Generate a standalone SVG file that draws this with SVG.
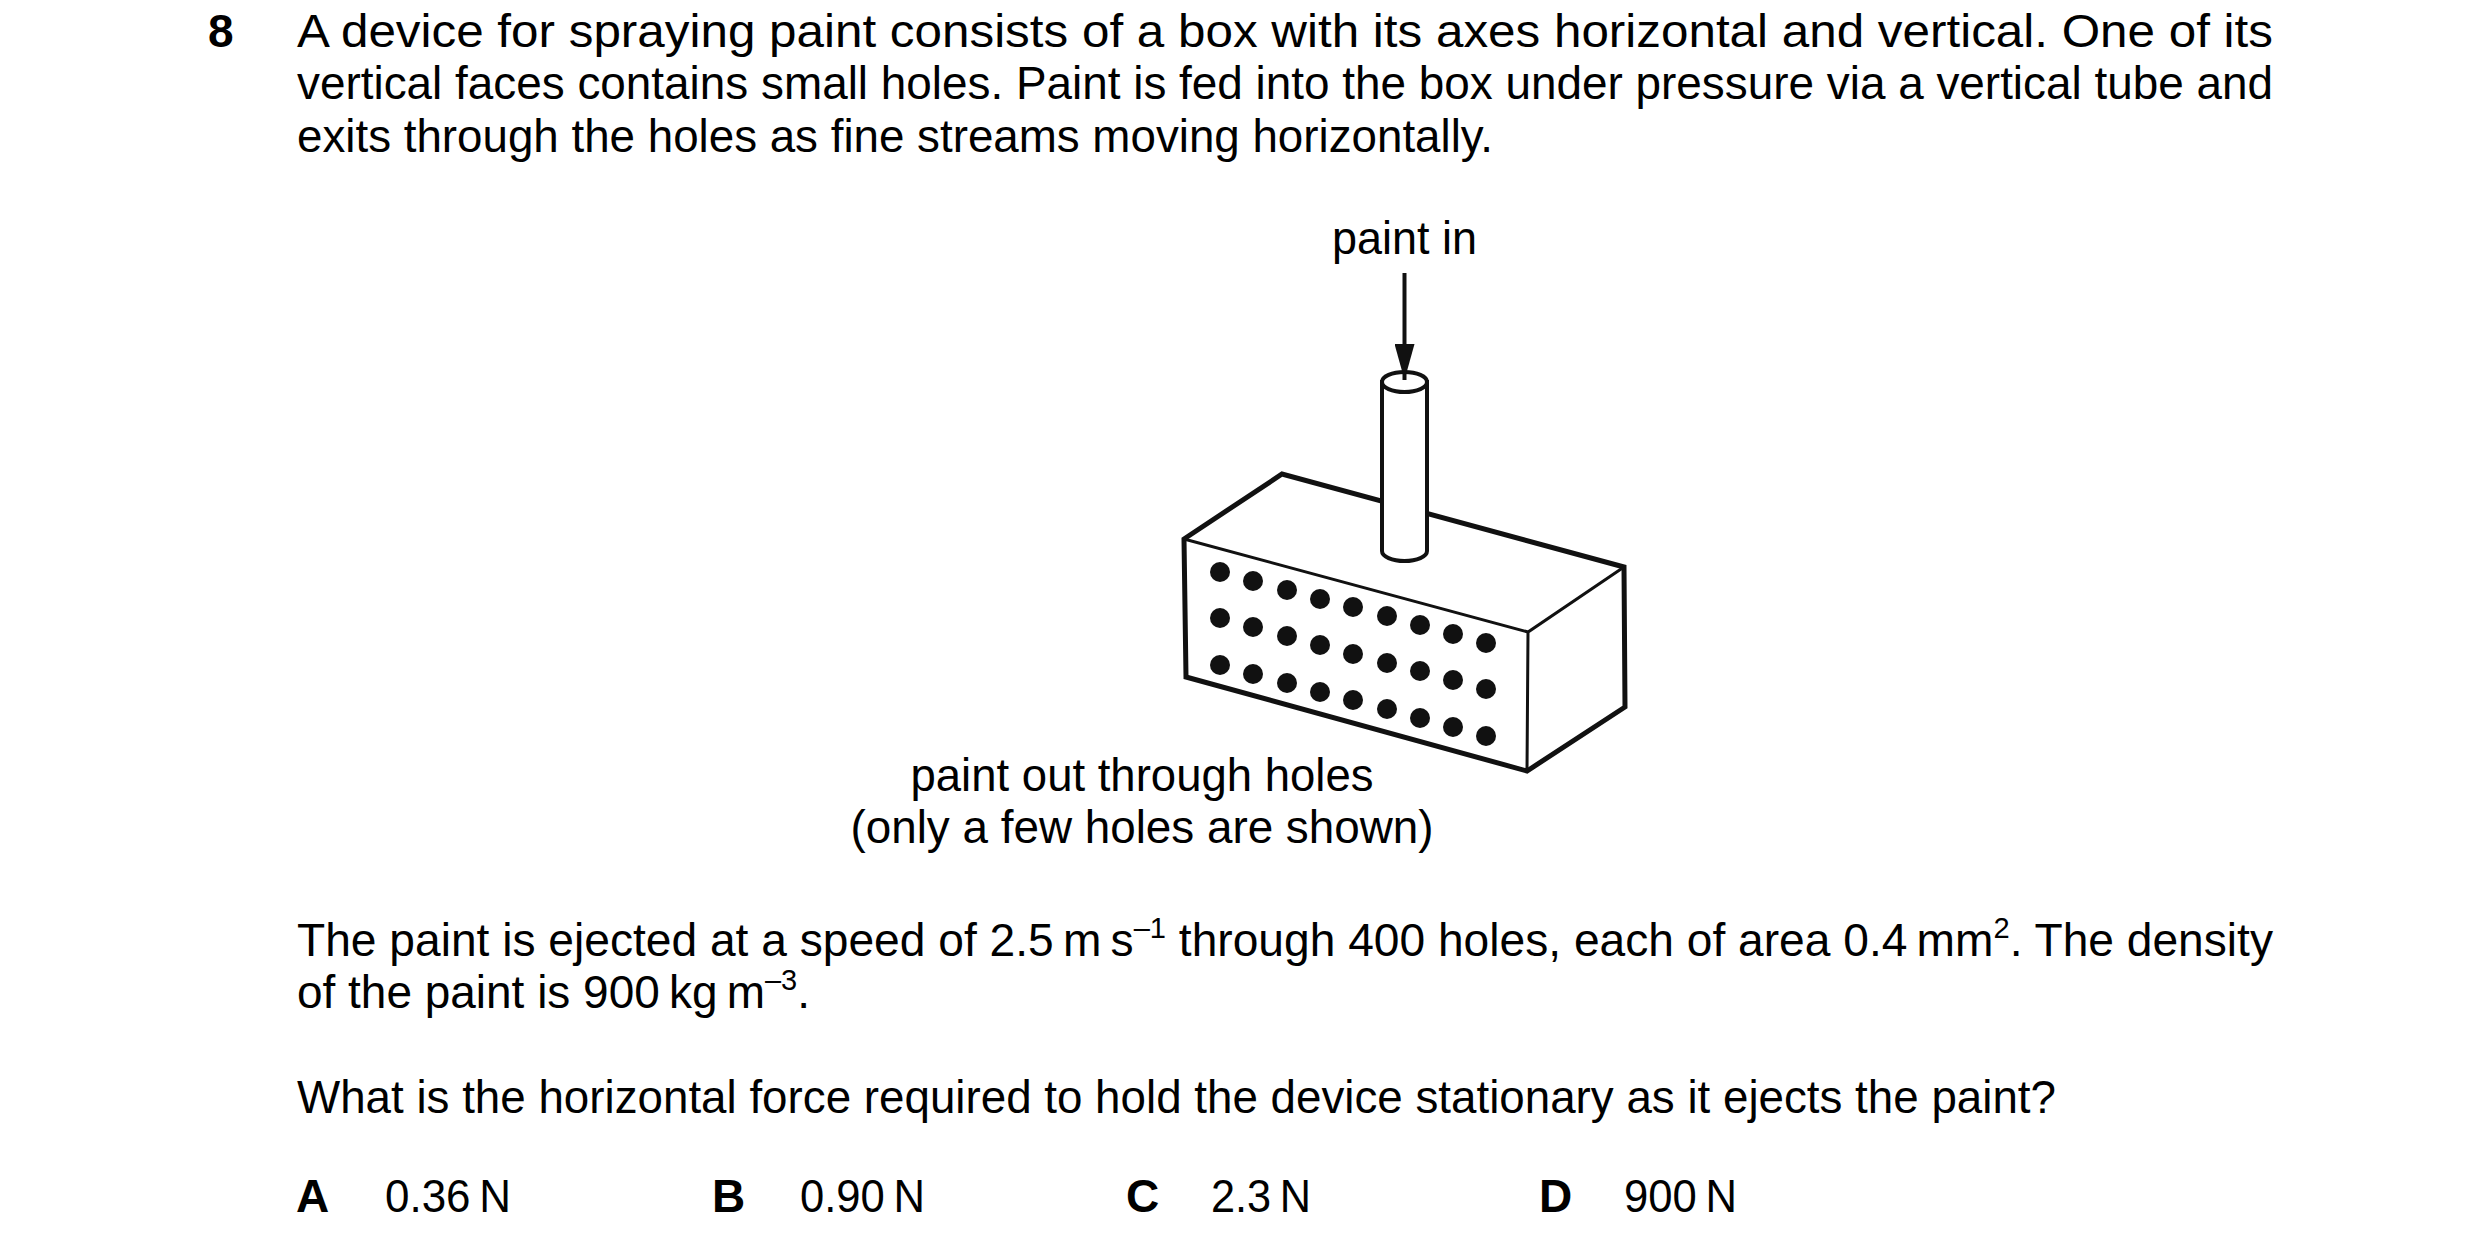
<svg xmlns="http://www.w3.org/2000/svg" width="2480" height="1252" viewBox="0 0 2480 1252">
<style>
text{font-family:"Liberation Sans",Arial,sans-serif;font-size:46px;fill:#000}
.b{font-weight:bold}
.sup{font-size:29px}
.ln{fill:none;stroke:#111;stroke-linejoin:miter}
.dot{fill:#111}
</style>
<defs>
<marker id="ah" markerUnits="userSpaceOnUse" markerWidth="36" markerHeight="20" refX="36" refY="10" orient="auto" viewBox="0 0 36 20">
<path d="M0,0 L36,10 L0,20 Z" fill="#111"/>
</marker>
</defs>
<rect width="2480" height="1252" fill="#fff"/>
<g id="question">
<text class="b" x="208" y="47">8</text>
<text x="297" y="47" textLength="1976" lengthAdjust="spacingAndGlyphs">A device for spraying paint consists of a box with its axes horizontal and vertical. One of its</text>
<text x="297" y="99" textLength="1976" lengthAdjust="spacingAndGlyphs">vertical faces contains small holes. Paint is fed into the box under pressure via a vertical tube and</text>
<text x="297" y="152" textLength="1196" lengthAdjust="spacingAndGlyphs">exits through the holes as fine streams moving horizontally.</text>
</g>
<g id="box">
<path class="ln" stroke-width="5" d="M1184,539 L1282,474 L1624,567 L1625,707 L1527,771 L1186,677 Z"/>
<path class="ln" stroke-width="3" d="M1184,539 L1528,632 L1624,567 M1528,632 L1527,771"/>
<g class="dot">
<circle cx="1220" cy="572" r="10"/><circle cx="1253" cy="581" r="10"/><circle cx="1287" cy="590" r="10"/><circle cx="1320" cy="599" r="10"/><circle cx="1353" cy="607" r="10"/><circle cx="1387" cy="616" r="10"/><circle cx="1420" cy="625" r="10"/><circle cx="1453" cy="634" r="10"/><circle cx="1486" cy="643" r="10"/>
<circle cx="1220" cy="618" r="10"/><circle cx="1253" cy="627" r="10"/><circle cx="1287" cy="636" r="10"/><circle cx="1320" cy="645" r="10"/><circle cx="1353" cy="654" r="10"/><circle cx="1387" cy="663" r="10"/><circle cx="1420" cy="671" r="10"/><circle cx="1453" cy="680" r="10"/><circle cx="1486" cy="689" r="10"/>
<circle cx="1220" cy="665" r="10"/><circle cx="1253" cy="674" r="10"/><circle cx="1287" cy="683" r="10"/><circle cx="1320" cy="692" r="10"/><circle cx="1353" cy="700" r="10"/><circle cx="1387" cy="709" r="10"/><circle cx="1420" cy="718" r="10"/><circle cx="1453" cy="727" r="10"/><circle cx="1486" cy="736" r="10"/>
</g>
</g>
<g id="tube">
<path d="M1382,382 L1382,551 A22.5,10 0 0 0 1427,551 L1427,382 Z" fill="#fff" stroke="#111" stroke-width="4"/>
<ellipse cx="1404.5" cy="382" rx="22.5" ry="10" fill="#fff" stroke="#111" stroke-width="4"/>
</g>
<g id="connectors">
<line x1="1404.5" y1="273" x2="1404.5" y2="380" stroke="#111" stroke-width="4" marker-end="url(#ah)"/>
</g>
<g id="labels">
<text x="1404.5" y="254" text-anchor="middle" textLength="145" lengthAdjust="spacingAndGlyphs">paint in</text>
<text x="1142" y="791" text-anchor="middle" textLength="463" lengthAdjust="spacingAndGlyphs">paint out through holes</text>
<text x="1142" y="843" text-anchor="middle" textLength="583" lengthAdjust="spacingAndGlyphs">(only a few holes are shown)</text>
</g>
<g id="data">
<text x="297" y="956" textLength="1976" lengthAdjust="spacingAndGlyphs">The paint is ejected at a speed of 2.5&#8201;m&#8201;s<tspan class="sup" dy="-18">–1</tspan><tspan dy="18"> through 400 holes, each of area 0.4&#8201;mm</tspan><tspan class="sup" dy="-18">2</tspan><tspan dy="18">. The density</tspan></text>
<text x="297" y="1008" textLength="513" lengthAdjust="spacingAndGlyphs">of the paint is 900&#8201;kg&#8201;m<tspan class="sup" dy="-18">–3</tspan><tspan dy="18">.</tspan></text>
<text x="297" y="1113" textLength="1759" lengthAdjust="spacingAndGlyphs">What is the horizontal force required to hold the device stationary as it ejects the paint?</text>
</g>
<g id="options">
<text class="b" x="296" y="1212">A</text>
<text x="385" y="1212" textLength="126" lengthAdjust="spacingAndGlyphs">0.36&#8201;N</text>
<text class="b" x="712" y="1212">B</text>
<text x="800" y="1212" textLength="125" lengthAdjust="spacingAndGlyphs">0.90&#8201;N</text>
<text class="b" x="1126" y="1212">C</text>
<text x="1211" y="1212" textLength="100" lengthAdjust="spacingAndGlyphs">2.3&#8201;N</text>
<text class="b" x="1539" y="1212">D</text>
<text x="1624" y="1212" textLength="113" lengthAdjust="spacingAndGlyphs">900&#8201;N</text>
</g>
</svg>
